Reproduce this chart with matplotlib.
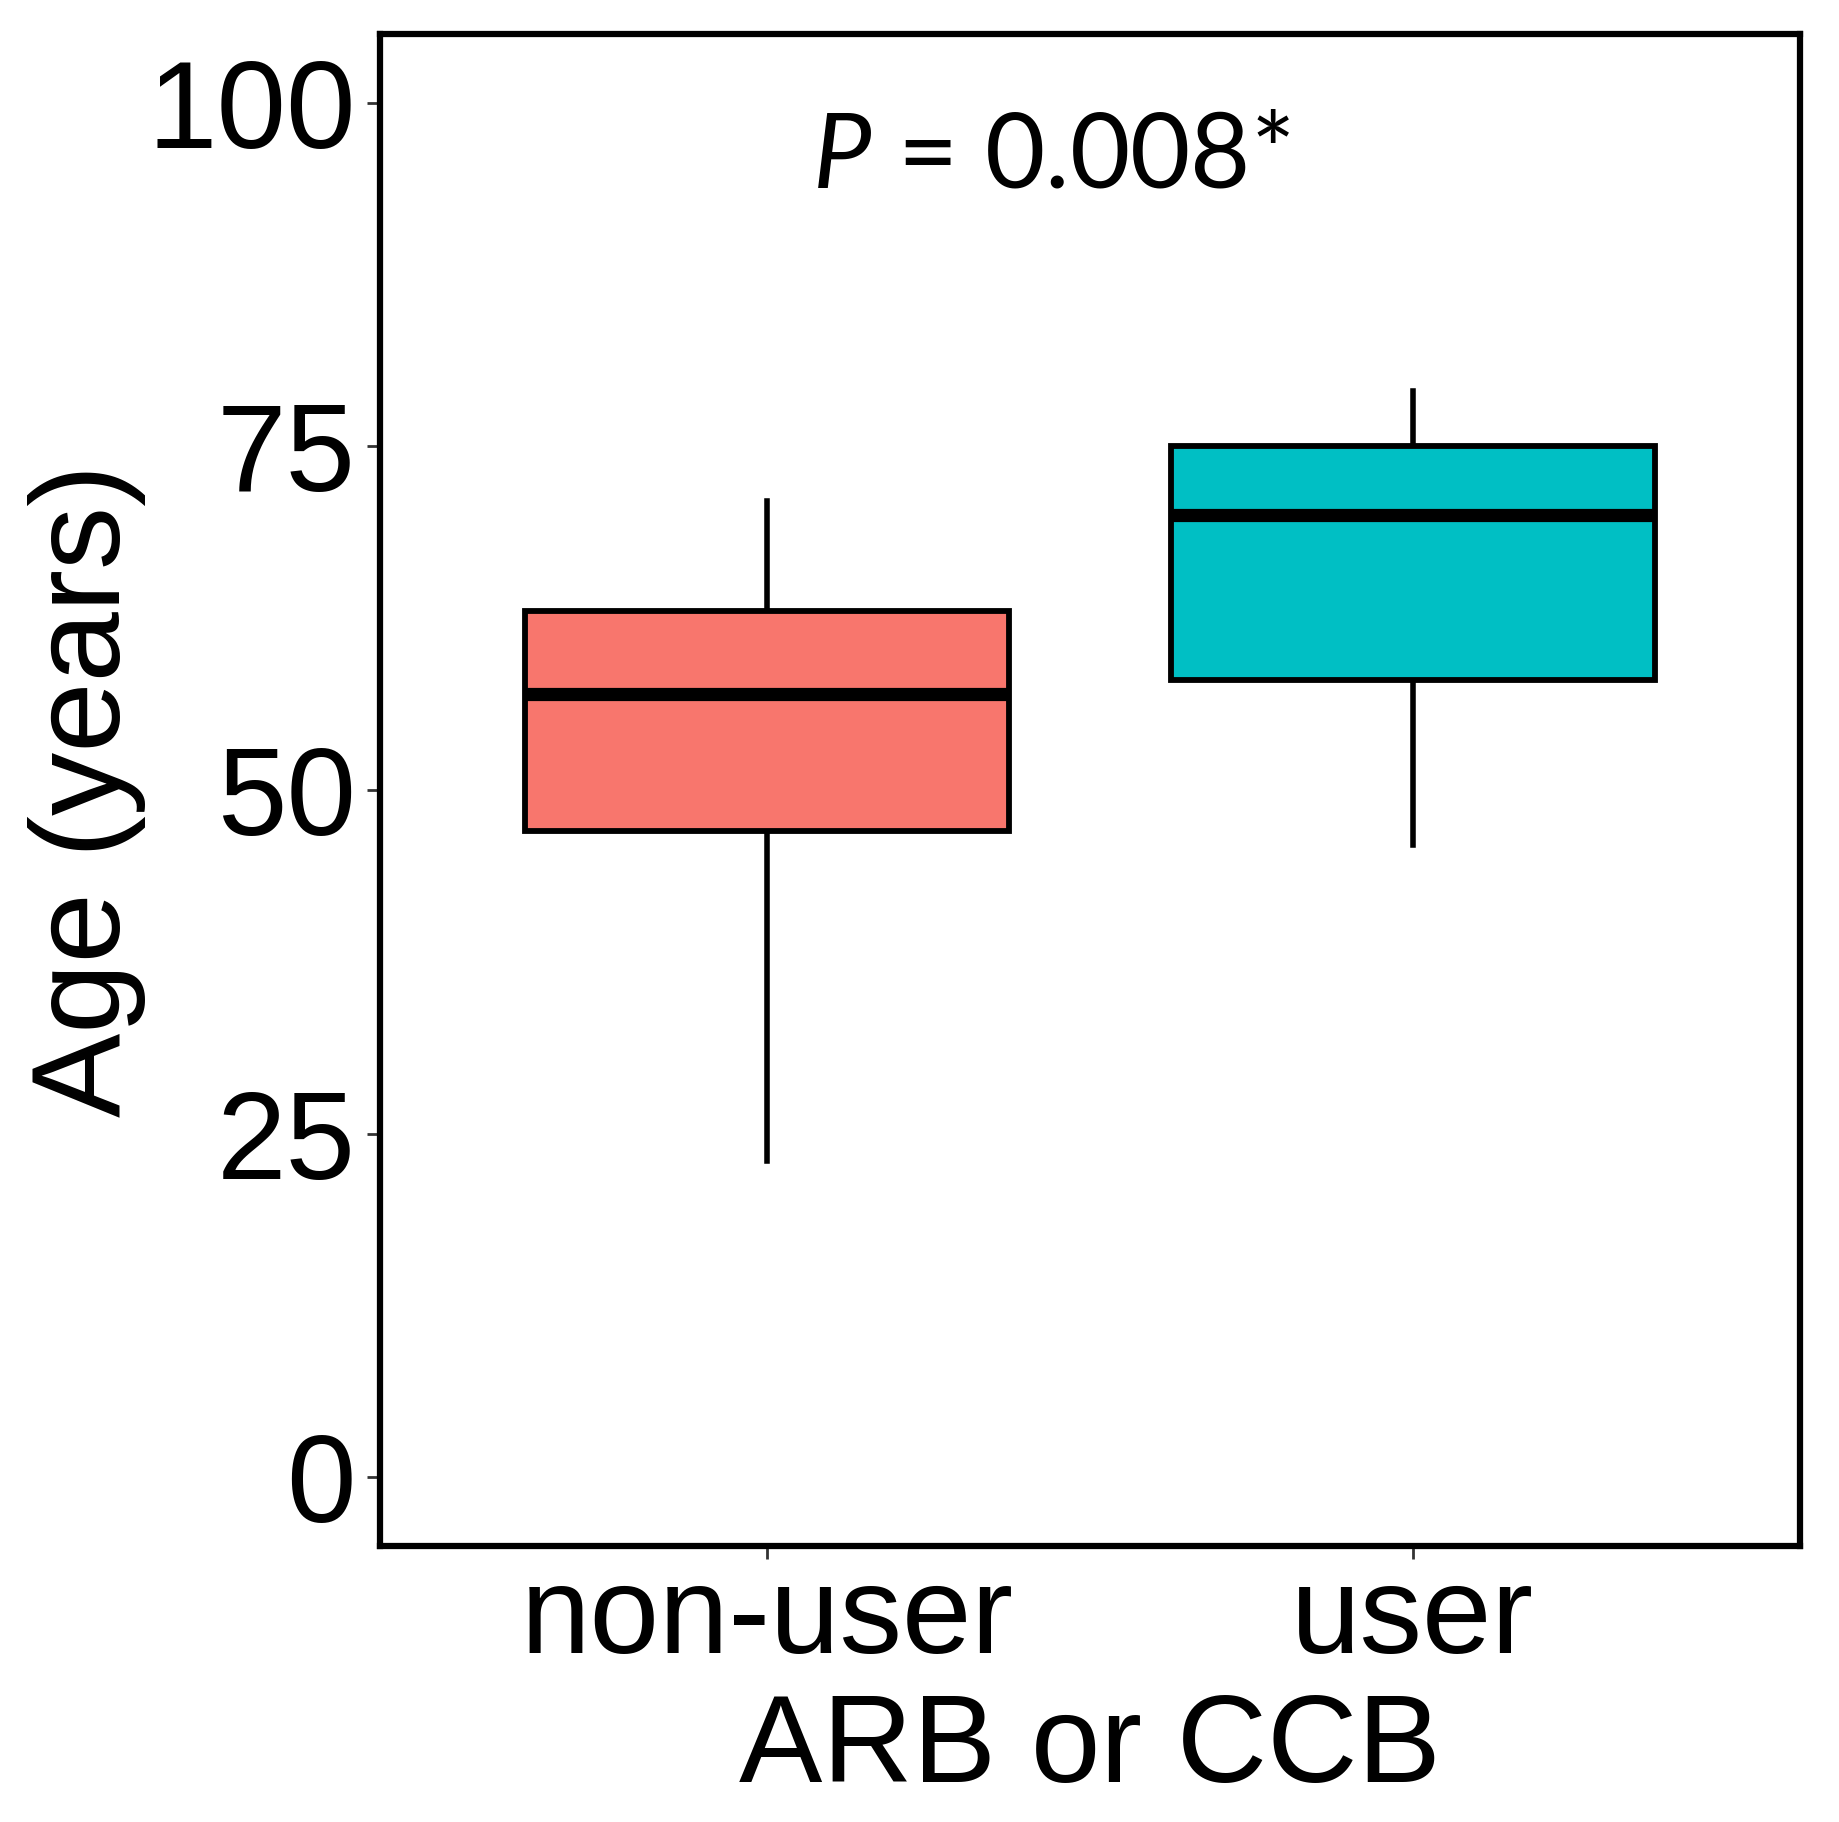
import matplotlib
matplotlib.use("Agg")
import matplotlib.pyplot as plt

# ---- data ----
categories = ["non-user", "user"]
whisker_low = [23, 46]
q1 = [47, 58]
medians = [57, 70]
q3 = [63, 75]
whisker_high = [71, 79]
fill_colors = ["#F8766D", "#00BFC4"]
y_ticks = [0, 25, 50, 75, 100]
p_text = "= 0.008*"

plt.rcParams['font.family'] = ['Liberation Sans', 'DejaVu Sans']
plt.rcParams['mathtext.fontset'] = 'custom'
plt.rcParams['mathtext.it'] = 'Lato:italic'
plt.rcParams['mathtext.rm'] = 'Lato'

fig = plt.figure(figsize=(18.39, 18.22), dpi=100)
ax = fig.add_axes([380/1839, 1 - 1546/1822, (1800-380)/1839, (1546-34)/1822])

stats = []
for i, c in enumerate(categories):
    stats.append(dict(label=c, whislo=whisker_low[i], q1=q1[i], med=medians[i],
                      q3=q3[i], whishi=whisker_high[i], fliers=[]))

positions = list(range(1, len(categories) + 1))
bp = ax.bxp(stats, positions=positions, widths=0.75, showcaps=False,
            showfliers=False, patch_artist=True,
            boxprops=dict(linewidth=4.2, edgecolor='black'),
            whiskerprops=dict(linewidth=4, color='black'),
            medianprops=dict(linewidth=9.5, color='black', solid_capstyle='butt'))
for patch, col in zip(bp['boxes'], fill_colors):
    patch.set_facecolor(col)
    patch.set_zorder(2)
for w in bp['whiskers']:
    w.set_zorder(1)
for m in bp['medians']:
    m.set_zorder(3)

ax.set_xlim(0.4, 2.6)
ax.set_ylim(-5, 105)
ax.set_yticks(y_ticks)
ax.set_yticklabels([str(t) for t in y_ticks])
ax.set_xticks(positions)
ax.set_xticklabels(categories)

ax.tick_params(axis='both', length=9.4, width=2, color='#333333',
               labelsize=90, labelcolor='black')
ax.tick_params(axis='y', pad=8)
ax.tick_params(axis='x', pad=3)
for s in ax.spines.values():
    s.set_linewidth(4.5)
    s.set_color('black')

ax.set_xlabel("ARB or CCB", fontsize=90, labelpad=9)
ax.set_ylabel("Age (years)", fontsize=91, labelpad=1)

ax.text(1.44, 93.8, r"$\mathit{P}$ " + p_text, fontsize=75, family='Lato',
        ha='center', va='baseline')

fig.savefig("out.png", dpi=100, facecolor='white')
